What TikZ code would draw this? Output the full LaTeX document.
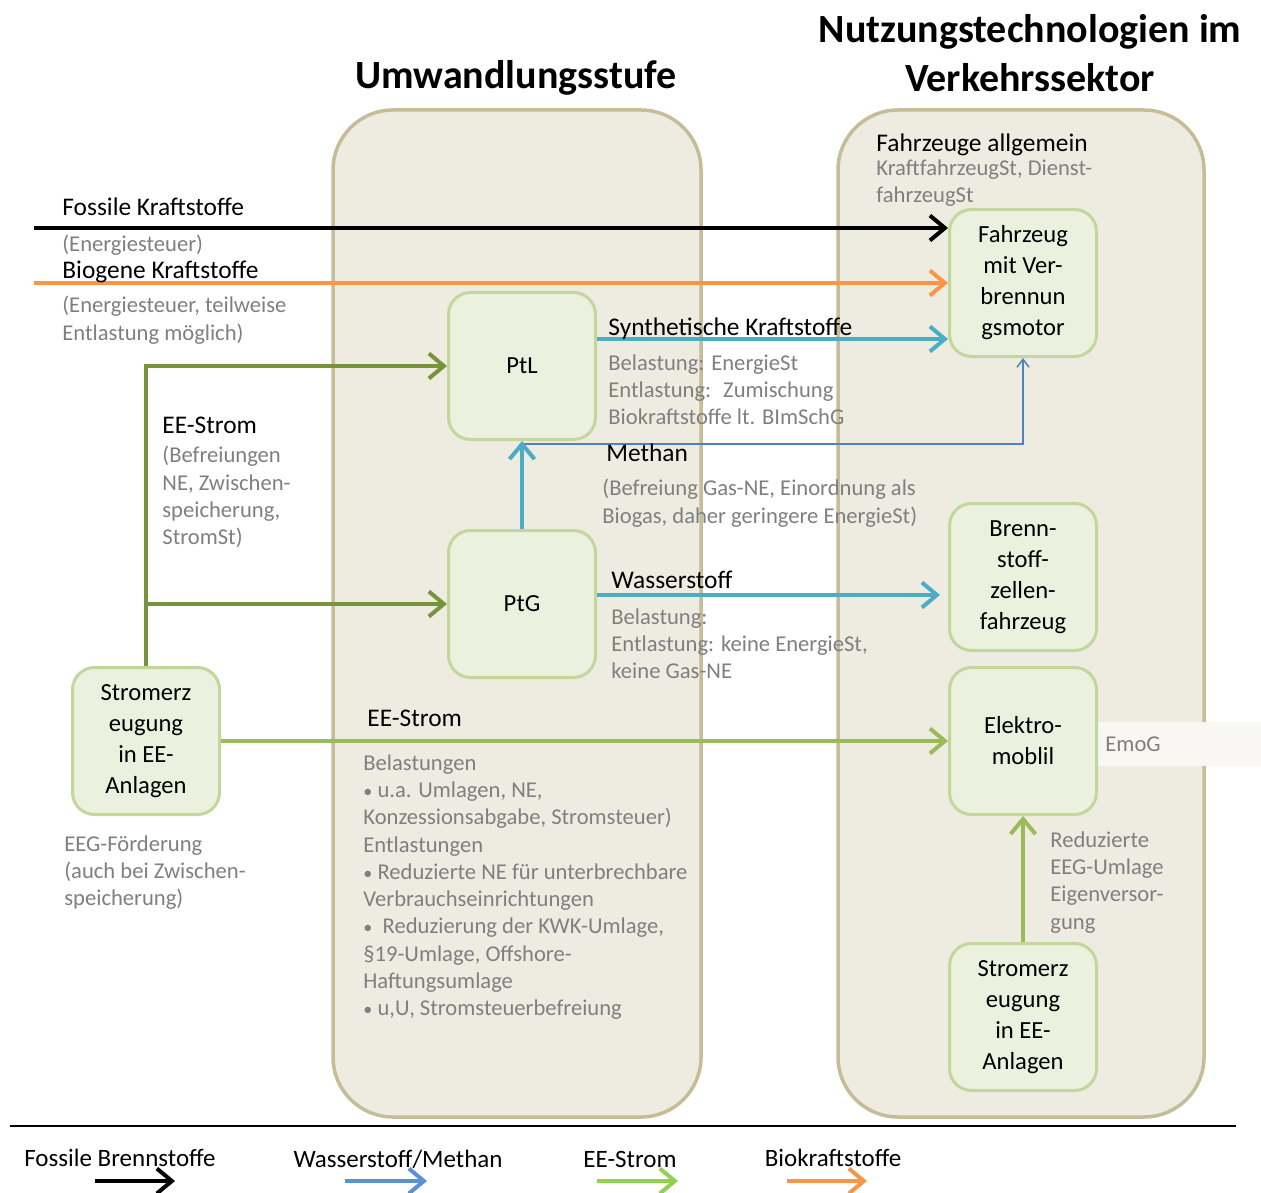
\documentclass[tikz,border=0pt]{standalone}
\usepackage{fontspec}
\setmainfont{Carlito}
\usetikzlibrary{arrows.meta}

\definecolor{colfill}{HTML}{EEECE1}
\definecolor{colline}{HTML}{C4BD97}
\definecolor{boxfill}{HTML}{EBF1DE}
\definecolor{boxline}{HTML}{C3D69B}
\definecolor{greytext}{HTML}{7F7F7F}
\definecolor{fuelblack}{HTML}{000000}
\definecolor{fuelorange}{HTML}{F79646}
\definecolor{gasteal}{HTML}{4BACC6}
\definecolor{gasblue}{HTML}{4F81BD}
\definecolor{legblue}{HTML}{5B8FD6}
\definecolor{eedark}{HTML}{77933C}
\definecolor{eelight}{HTML}{9BBB59}
\definecolor{leggreen}{HTML}{92D050}
\definecolor{tagfill}{HTML}{F8F7F3}

\newcommand{\boxfont}{\fontsize{12.3}{15.5}\selectfont}
\newcommand{\blackfont}{\fontsize{12.7}{15.5}\selectfont}
\newcommand{\greyfont}{\fontsize{11.3}{13.65}\selectfont}
\newcommand{\headfont}{\fontsize{20}{24.5}\selectfont\bfseries}
\newcommand{\itemdot}{\scalebox{0.8}{•}}

\begin{document}
\begin{tikzpicture}[x=0.5pt,y=-0.5pt,
  column/.style={draw=colline, fill=colfill, line width=1.75pt, rounded corners=30pt},
  techbox/.style={draw=boxline, fill=boxfill, line width=1.5pt, rounded corners=11pt,
    minimum width=73.5pt, minimum height=73.5pt, align=center, font=\boxfont, inner sep=0pt},
  lbl/.style={anchor=north west, inner sep=0pt, align=left, font=\blackfont},
  note/.style={anchor=north west, inner sep=0pt, align=left, font=\greyfont, text=greytext},
  head/.style={align=center, font=\headfont, inner sep=0pt},
  flow/.style={line width=2pt, -{Straight Barb[length=7.5pt,width=12.5pt]}},
  thinflow/.style={line width=0.75pt, draw=gasblue, -{Straight Barb[length=4pt,width=6pt]}},
  legtext/.style={font=\fontsize{12.5}{15}\selectfont, inner sep=0pt}]

\useasboundingbox (0,0) rectangle (1261,1192);

% headings
\node[head] (h1) at (516,78) {Umwandlungsstufe};
\node[head] (h2) at (1030,53) {Nutzungstechnologien im\\Verkehrssektor};

% the two stage columns
\draw[column] (333,110) rectangle (701,1117);
\draw[column] (838,110) rectangle (1204,1117);
\fill[tagfill] (1097,722) rectangle (1261,766);

% technology boxes
\node[techbox] (ptl) at (522,366) {PtL};
\node[techbox] (ptg) at (522,604) {PtG};
\node[techbox] (stl) at (146,741) {Stromerz\\eugung\\in EE-\\Anlagen};
\node[techbox] (fzv) at (1023,283) {Fahrzeug\\mit Ver-\\brennun\\gsmotor};
\node[techbox] (bzf) at (1023,577) {Brenn-\\stoff-\\zellen-\\fahrzeug};
\node[techbox] (emo) at (1023,741) {Elektro-\\moblil};
\node[techbox] (str) at (1023,1017) {Stromerz\\eugung\\in EE-\\Anlagen};

% incoming fuels
\coordinate (fossilstart) at (34,228);
\coordinate (biostart) at (34,283);
\draw[flow, draw=fuelblack] (fossilstart) -- (fossilstart -| fzv.west);
\draw[flow, draw=fuelorange] (biostart) -- (fzv.west);

% power-to-x paths
\draw[flow, draw=gasteal] ([yshift=13.5pt]ptl.east) -- ([yshift=13.5pt]ptl.east -| fzv.west);
\draw[thinflow] ([yshift=-1.5pt]ptl.south) -| (fzv.south);
\draw[flow, draw=gasteal] (ptg.north) -- (ptl.south);
\draw[flow, draw=gasteal, shorten >=4pt] ([yshift=4.5pt]ptg.east) -- ([yshift=4.5pt]ptg.east -| bzf.west);

% renewable electricity
\draw[flow, draw=eedark] (stl.north) |- (ptl.west);
\draw[flow, draw=eedark] (stl.north |- ptg.west) -- (ptg.west);
\draw[flow, draw=eelight] (stl.east) -- (emo.west);
\draw[flow, draw=eelight] (str.north) -- (emo.south);

% labels, left side
\node[lbl] (lfossil) at (62,197) {Fossile Kraftstoffe};
\node[note] (nfossil) at (62,235) {(Energiesteuer)};
\node[lbl] (lbio) at (62,261) {Biogene Kraftstoffe};
\node[note] (nbio) at (62,296) {(Energiesteuer, teilweise\\Entlastung möglich)};
\node[lbl] (lee1) at (162,417) {EE-Strom};
\node[note] (nee1) at (162,446) {(Befreiungen\\NE, Zwischen-\\speicherung,\\StromSt)};
\node[note] (nstl) at (64,835) {EEG-Förderung\\(auch bei Zwischen-\\speicherung)};

% labels, conversion stage
\node[lbl] (lsyn) at (608,317) {Synthetische Kraftstoffe};
\node[note] (nsyn) at (608,354) {Belastung: EnergieSt\\Entlastung:~ Zumischung\\Biokraftstoffe lt. BImSchG};
\node[lbl] (lmeth) at (606,443) {Methan};
\node[note] (nmeth) at (602,479) {(Befreiung Gas-NE, Einordnung als\\Biogas, daher geringere EnergieSt)};
\node[lbl] (lh2) at (611,571) {Wasserstoff};
\node[note] (nh2) at (611,608) {Belastung:\\Entlastung: keine EnergieSt,\\keine Gas-NE};
\node[lbl] (lee2) at (367,710) {EE-Strom};
\node[note] (nee2) at (363,754) {Belastungen\\\itemdot\ u.a. Umlagen, NE,\\Konzessionsabgabe, Stromsteuer)\\Entlastungen\\\itemdot\ Reduzierte NE für unterbrechbare\\Verbrauchseinrichtungen\\\itemdot~~Reduzierung der KWK-Umlage,\\§19-Umlage, Offshore-\\Haftungsumlage\\\itemdot\ u,U, Stromsteuerbefreiung};

% labels, usage stage
\node[lbl] (lfz) at (876,133) {Fahrzeuge allgemein};
\node[note] (nfz) at (876,159) {KraftfahrzeugSt, Dienst-\\fahrzeugSt};
\node[note] (nemo) at (1105,736) {EmoG};
\node[note] (nstr) at (1050,831) {Reduzierte\\EEG-Umlage\\Eigenversor-\\gung};

% legend
\draw[black, line width=0.75pt] (10,1126) -- (1236,1126);
\node[legtext] (lg1) at (120,1158) {Fossile Brennstoffe};
\node[legtext] (lg2) at (398,1159) {Wasserstoff/Methan};
\node[legtext] (lg3) at (630,1159) {EE-Strom};
\node[legtext] (lg4) at (833,1158) {Biokraftstoffe};
\coordinate (a1s) at (95,1181);  \coordinate (a1e) at (175,1181);
\coordinate (a2s) at (345,1181); \coordinate (a2e) at (427,1181);
\coordinate (a3s) at (597,1181); \coordinate (a3e) at (678,1181);
\coordinate (a4s) at (787,1181); \coordinate (a4e) at (867,1181);
\draw[flow, draw=fuelblack] (a1s) -- (a1e);
\draw[flow, draw=legblue] (a2s) -- (a2e);
\draw[flow, draw=leggreen] (a3s) -- (a3e);
\draw[flow, draw=fuelorange] (a4s) -- (a4e);
\end{tikzpicture}
\end{document}
